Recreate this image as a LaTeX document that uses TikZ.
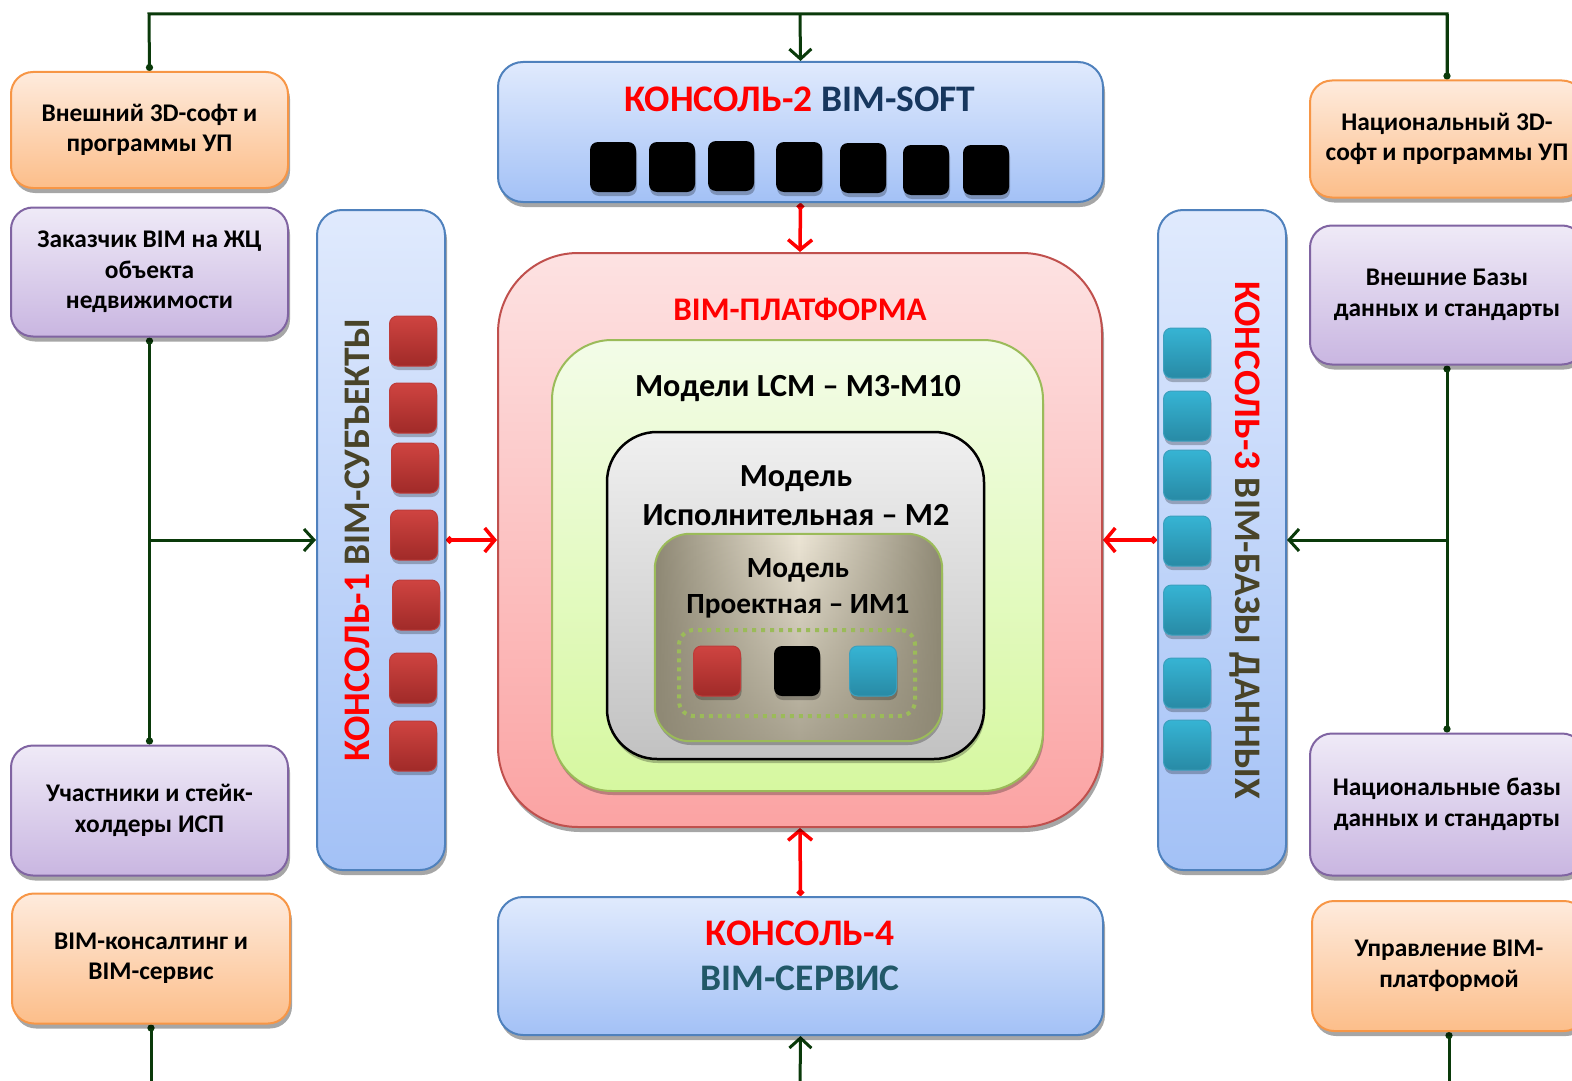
\documentclass[tikz,border=0pt]{standalone}
\usepackage{fontspec}
\setmainfont{Carlito}
\usetikzlibrary{arrows.meta,shadows,backgrounds,fadings}
\definecolor{orB}{HTML}{F79646}
\definecolor{orT}{HTML}{FEEBDD}
\definecolor{orD}{HTML}{FCBE8A}
\definecolor{puB}{HTML}{8064A2}
\definecolor{puT}{HTML}{EFEAF7}
\definecolor{puD}{HTML}{C9B6E1}
\definecolor{blB}{HTML}{4F81BD}
\definecolor{blT}{HTML}{E0EAFD}
\definecolor{blD}{HTML}{A3C1F6}
\definecolor{plB}{HTML}{C0504D}
\definecolor{plT}{HTML}{FDE2E2}
\definecolor{plD}{HTML}{FBA3A3}
\definecolor{lcB}{HTML}{9BBB59}
\definecolor{lcT}{HTML}{F3FCE8}
\definecolor{lcD}{HTML}{D6F8A0}
\definecolor{gnLine}{HTML}{0A3A0A}
\definecolor{navyT}{HTML}{17375E}
\definecolor{tealT}{HTML}{215868}
\definecolor{oliveT}{HTML}{494429}
\definecolor{redT}{HTML}{FF0000}
\definecolor{imL}{HTML}{EDE6D6}
\definecolor{imD}{HTML}{8E8874}
\definecolor{rqT}{HTML}{CF4441}
\definecolor{rqD}{HTML}{A02A28}
\definecolor{rqB}{HTML}{BE3C3A}
\definecolor{cqT}{HTML}{36B4D4}
\definecolor{cqD}{HTML}{288AA5}
\definecolor{cqB}{HTML}{3CA0BE}
\begin{document}
\begin{tikzpicture}[x=1pt,y=-1pt,
  shad/.style={drop shadow={shadow xshift=2pt,shadow yshift=-5pt,fill=black,opacity=0.35}},
  lshad/.style={drop shadow={shadow xshift=1pt,shadow yshift=-4pt,fill=black,opacity=0.25}},
  lbl/.style={font=\bfseries\fontsize{25.4}{30.5}\selectfont, align=center, text=black},
  obox/.style={draw=orB, line width=2pt, top color=orT, bottom color=orD, rounded corners=22pt, shad, inner sep=0pt, lbl},
  pbox/.style={draw=puB, line width=2pt, top color=puT, bottom color=puD, rounded corners=22pt, shad, inner sep=0pt, lbl},
  console/.style={draw=blB, line width=2pt, top color=blT, bottom color=blD, rounded corners=25pt, shad, inner sep=0pt},
  ctitle/.style={font=\bfseries\fontsize{37.5}{45}\selectfont, align=center, inner sep=0pt},
  mtitle/.style={font=\bfseries\fontsize{32.2}{39}\selectfont, align=center, inner sep=0pt, text=black},
  rsq/.style={rounded corners=8pt, minimum width=47pt, minimum height=50pt, top color=rqT, bottom color=rqD, draw=rqB, line width=1pt, inner sep=0pt, lshad},
  bsq/.style={rounded corners=8pt, minimum width=46pt, minimum height=50pt, fill=black, inner sep=0pt, lshad},
  csq/.style={rounded corners=8pt, minimum width=47pt, minimum height=50pt, top color=cqT, bottom color=cqD, draw=cqB, line width=1pt, inner sep=0pt, lshad},
  gline/.style={draw=gnLine, line width=3pt},
  garrow/.style={gline, -{Straight Barb[length=10pt,width=22pt]}},
  rarrow/.style={draw=redT, line width=3.5pt, {Circle[length=7pt]}-{Straight Barb[length=10pt,width=24pt]}}
]
\useasboundingbox (0,0) rectangle (1572,1081);
\clip (0,0) rectangle (1572,1081);

% left boxes
\node[obox, minimum width=277pt, minimum height=116pt] (A) at (149.5,130) {Внешний 3D-софт и\\программы УП};
\node[pbox, minimum width=277pt, minimum height=129pt] (B) at (149.5,272) {Заказчик BIM на ЖЦ\\объекта\\недвижимости};
\node[pbox, minimum width=277pt, minimum height=130pt] (C) at (149.5,810.5) {Участники и стейк-\\холдеры ИСП};
\node[obox, minimum width=278pt, minimum height=130pt] (D) at (151,958.5) {BIM-консалтинг и\\BIM-сервис};
% right boxes
\node[obox, minimum width=274pt, minimum height=117pt] (E) at (1447,139) {Национальный 3D-\\софт и программы УП};
\node[pbox, minimum width=274pt, minimum height=139pt] (F) at (1447,295) {Внешние Базы\\данных и стандарты};
\node[pbox, minimum width=274pt, minimum height=142pt] (G) at (1447,804.5) {Национальные базы\\данных и стандарты};
\node[obox, minimum width=274pt, minimum height=130pt] (H) at (1449,966) {Управление BIM-\\платформой};

% consoles
\node[console, minimum width=605pt, minimum height=140pt] (c2) at (800.5,132) {};
\node[ctitle] (t2) at (800,99) {\textcolor{redT}{КОНСОЛЬ-2} \textcolor{navyT}{BIM-SOFT}};
\node[console, minimum width=128pt, minimum height=660pt] (c1) at (381,540) {};
\node[ctitle, rotate=90] (t1) at (357,540) {\textcolor{redT}{КОНСОЛЬ-1} \textcolor{oliveT}{BIM-СУБЪЕКТЫ}};
\node[console, minimum width=128pt, minimum height=660pt] (c3) at (1222,540) {};
\node[ctitle, rotate=-90] (t3) at (1245,540) {\textcolor{redT}{КОНСОЛЬ-3} \textcolor{oliveT}{BIM-БАЗЫ ДАННЫХ}};
\node[console, minimum width=605pt, minimum height=138pt] (c4) at (800.5,966) {};
\node[ctitle] (t4) at (800,955.5) {\textcolor{redT}{КОНСОЛЬ-4}\\\textcolor{tealT}{BIM-СЕРВИС}};

% console-2 black squares
\node[bsq] (k1) at (613,167) {};
\node[bsq] (k2) at (672,167) {};
\node[bsq] (k3) at (731,166) {};
\node[bsq] (k4) at (799,167) {};
\node[bsq] (k5) at (863,168) {};
\node[bsq] (k6) at (926,170) {};
\node[bsq] (k7) at (986,170) {};
% console-1 red squares
\node[rsq] (r1) at (413,341) {};
\node[rsq] (r2) at (413,408) {};
\node[rsq] (r3) at (415,468) {};
\node[rsq] (r4) at (414,535) {};
\node[rsq] (r5) at (416,605) {};
\node[rsq] (r6) at (413,678) {};
\node[rsq] (r7) at (413,746) {};
% console-3 blue squares
\node[csq] (b1) at (1187,353) {};
\node[csq] (b2) at (1187,416) {};
\node[csq] (b3) at (1187,475) {};
\node[csq] (b4) at (1187,541) {};
\node[csq] (b5) at (1187,610) {};
\node[csq] (b6) at (1187,683) {};
\node[csq] (b7) at (1187,745) {};

% platform
\node[draw=plB, line width=2pt, top color=plT, bottom color=plD, rounded corners=80pt, shad, minimum width=604pt, minimum height=574pt, inner sep=0pt] (plat) at (800,540) {};
\node[font=\bfseries\fontsize{33}{38}\selectfont, text=redT, inner sep=0pt] (tplat) at (800,309) {BIM-ПЛАТФОРМА};
\node[draw=lcB, line width=2pt, top color=lcT, bottom color=lcD, rounded corners=60pt, lshad, minimum width=491pt, minimum height=451pt, inner sep=0pt] (lcm) at (797.5,565.5) {};
\node[mtitle] (tlcm) at (798,389) {Модели LCM – М3-М10};
\node[draw=black, line width=2.5pt, top color=white!94!black, bottom color=white!76!black, rounded corners=50pt, lshad, minimum width=377pt, minimum height=327pt, inner sep=0pt] (m2) at (795.5,595.5) {};
\node[mtitle] (tm2) at (796,495.5) {Модель\\Исполнительная – М2};
\node[left color=imD, right color=imD, middle color=imL, rounded corners=35pt, lshad, minimum width=287pt, minimum height=207pt, inner sep=0pt] (im1) at (798.5,637.5) {};
\fill[imD, path fading=north, fill opacity=0.7, rounded corners=35pt] (im1.south west) rectangle (im1.north east);
\draw[lcB, line width=2pt, rounded corners=35pt] (im1.south west) rectangle (im1.north east);
\node[font=\bfseries\fontsize{29.3}{36}\selectfont, align=center, inner sep=0pt] (tim1) at (798,588) {Модель\\Проектная – ИМ1};
\node[draw=lcB, line width=4pt, dash pattern=on 4pt off 5pt, rounded corners=15pt, minimum width=236pt, minimum height=86pt, inner sep=0pt] (dotbox) at (797,673) {};
\node[rsq] (q1) at (717,671) {};
\node[bsq] (q2) at (797,671) {};
\node[csq] (q3) at (873,671) {};

% connectors
\coordinate (tl) at (149,14);
\coordinate (tm) at (800,14);
\coordinate (tr) at (1447,14);
\coordinate (jl) at (149,540);
\coordinate (jr) at (1447,540);
\coordinate (bl) at (151,1090);
\coordinate (bm) at (800,1090);
\coordinate (br) at (1449,1090);
\begin{scope}[on background layer]
\draw[gline, {Circle[length=7pt]}-] (A.north) -- (tl) -- (tr) -- (E.north);
\draw[gline, {Circle[length=7pt]}-] (E.north) -- (tr);
\draw[garrow] (tm) -- (c2.north);
\draw[gline, {Circle[length=7pt]}-{Circle[length=7pt]}] (B.south) -- (C.north);
\draw[garrow] (jl) -- (c1.west);
\draw[gline, {Circle[length=7pt]}-{Circle[length=7pt]}] (F.south) -- (G.north);
\draw[garrow] (jr) -- (c3.east);
\draw[gline, {Circle[length=7pt]}-] (D.south) -- (bl);
\draw[gline, {Circle[length=7pt]}-] (H.south) -- (br);
\draw[garrow] (bm) -- (c4.south);
\draw[rarrow] (c2.south) -- (plat.north);
\draw[rarrow] (c1.east) -- (plat.west);
\draw[rarrow] (c3.west) -- (plat.east);
\draw[rarrow] (c4.north) -- (plat.south);
\end{scope}
\end{tikzpicture}
\end{document}
